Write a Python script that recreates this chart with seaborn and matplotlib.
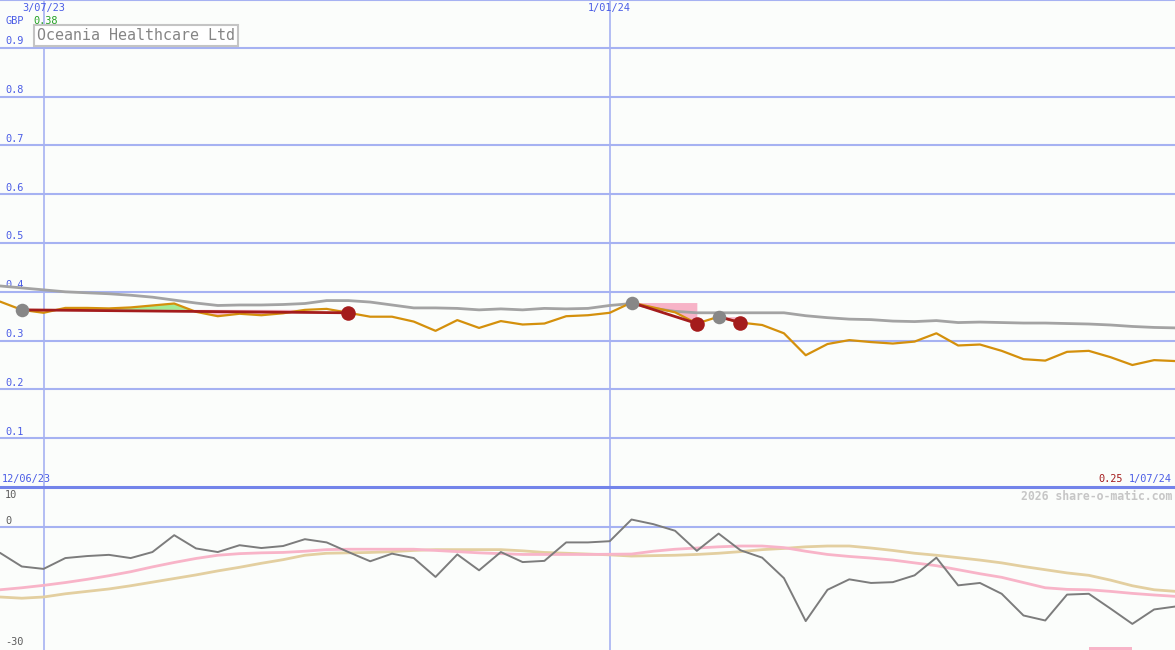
import matplotlib
matplotlib.use("Agg")
import matplotlib.pyplot as plt
import numpy as np
import pandas as pd
import seaborn as sns

# weekly data, 19 Jun 2023 .. 1 Jul 2024
dates = pd.date_range("2023-06-19", periods=55, freq="7D")

price = [0.380, 0.363, 0.357, 0.367, 0.367, 0.366, 0.368, 0.372, 0.376, 0.359,
         0.350, 0.355, 0.352, 0.356, 0.363, 0.365, 0.357, 0.349, 0.349, 0.339,
         0.320, 0.342, 0.326, 0.340, 0.333, 0.335, 0.350, 0.352, 0.357, 0.378,
         0.368, 0.358, 0.335, 0.349, 0.337, 0.332, 0.315, 0.270, 0.293, 0.301,
         0.297, 0.294, 0.298, 0.315, 0.290, 0.292, 0.279, 0.262, 0.259, 0.277,
         0.279, 0.266, 0.250, 0.260, 0.258]

price_ma = [0.412, 0.408, 0.404, 0.400, 0.398, 0.396, 0.393, 0.389, 0.383, 0.377,
            0.372, 0.373, 0.373, 0.374, 0.376, 0.382, 0.382, 0.379, 0.373, 0.367,
            0.367, 0.366, 0.363, 0.365, 0.363, 0.366, 0.365, 0.366, 0.372, 0.376,
            0.366, 0.360, 0.357, 0.357, 0.357, 0.357, 0.357, 0.351, 0.347, 0.344,
            0.343, 0.340, 0.339, 0.341, 0.337, 0.338, 0.337, 0.336, 0.336, 0.335,
            0.334, 0.332, 0.329, 0.327, 0.326]

momentum = [-6.4, -9.8, -10.4, -7.7, -7.2, -6.9, -7.7, -6.2, -2.0, -5.3,
            -6.2, -4.5, -5.2, -4.7, -3.0, -3.8, -6.2, -8.5, -6.6, -7.7,
            -12.4, -6.8, -10.75, -6.2, -8.7, -8.4, -3.8, -3.8, -3.5, 1.9,
            0.75, -0.9, -5.9, -1.6, -5.75, -7.6, -12.7, -23.4, -15.6, -13.0,
            -13.9, -13.7, -12.0, -7.6, -14.5, -13.9, -16.6, -22.0, -23.25, -16.8,
            -16.6, -20.3, -24.1, -20.5, -19.75]

mom_fast = [-15.6, -15.1, -14.5, -13.8, -13.0, -12.1, -11.1, -9.9, -8.8, -7.8,
            -7.0, -6.6, -6.4, -6.3, -6.0, -5.6, -5.5, -5.5, -5.5, -5.5,
            -5.8, -6.1, -6.4, -6.6, -6.8, -6.8, -6.8, -6.8, -6.75, -6.7,
            -6.0, -5.5, -5.2, -4.9, -4.7, -4.7, -5.1, -6.0, -6.8, -7.3,
            -7.7, -8.2, -8.9, -9.6, -10.6, -11.6, -12.5, -13.8, -15.1, -15.5,
            -15.6, -16.0, -16.5, -16.9, -17.25]

mom_slow = [-17.4, -17.7, -17.4, -16.6, -16.0, -15.4, -14.6, -13.7, -12.8, -11.9,
            -10.9, -10.0, -9.0, -8.1, -7.0, -6.5, -6.4, -6.3, -6.1, -5.8,
            -5.6, -5.6, -5.6, -5.6, -5.9, -6.3, -6.5, -6.7, -6.9, -7.2,
            -7.1, -7.0, -6.8, -6.5, -6.1, -5.6, -5.3, -4.9, -4.7, -4.7,
            -5.2, -5.8, -6.5, -7.0, -7.6, -8.2, -8.9, -9.8, -10.6, -11.4,
            -12.0, -13.2, -14.6, -15.6, -16.0]

# trades: week index of buy and sell
buy_weeks = [1, 29, 33]
sell_weeks = [16, 32, 34]
signal_weeks = [50, 51]

price_ticks = [0.1, 0.2, 0.3, 0.4, 0.5, 0.6, 0.7, 0.8, 0.9]
price_labels = ["0.1", "0.2", "0.3", "0.4", "0.5", "0.6", "0.7", "0.8", "0.9"]
mom_ticks = [10, 0, -30]
mom_labels = ["10", "0", "-30"]
date_marks = [pd.Timestamp("2023-07-03"), pd.Timestamp("2024-01-01")]
date_marks_lbl = ["3/07/23", "1/01/24"]

sns.set_style("white")
plt.rcParams["font.family"] = ["DejaVu Sans Mono"]

BG = "#fbfdfb"
GRID = "#a6b2f2"
BLUE_TXT = "#4b5de6"
ORANGE = "#d4900c"
MA_GRAY = "#a3a3a3"
DARKRED = "#a41c1c"
FS = 7.4

df = pd.DataFrame({"date": dates, "price": price, "ma": price_ma,
                   "mom": momentum, "fast": mom_fast, "slow": mom_slow})

fig = plt.figure(figsize=(11.75, 6.5), dpi=100, facecolor=BG)
ax1 = fig.add_axes([0, 163 / 650, 1, 487 / 650], facecolor=BG)
ax2 = fig.add_axes([0, 0, 1, 163 / 650], facecolor=BG)

x0 = pd.Timestamp("2023-06-19")
x1 = pd.Timestamp("2024-06-30 17:00")
for ax in (ax1, ax2):
    ax.set_xlim(x0, x1)
    ax.set_xticks([])
    ax.set_yticks([])
    for s in ax.spines.values():
        s.set_visible(False)
    for d in date_marks:
        ax.axvline(d, color=GRID, lw=1.2, zorder=1)

ax1.set_ylim(0, 0.998)
ax2.set_ylim(-30.6, 10)

# ---- upper panel ----
for v, lbl in zip(price_ticks, price_labels):
    ax1.axhline(v, color=GRID, lw=1.5, zorder=1)
    ax1.annotate(lbl, xy=(0, v), xycoords=("axes fraction", "data"),
                 xytext=(3.6, 1.2), textcoords="offset points",
                 ha="left", va="bottom", fontsize=FS, color=BLUE_TXT)
ax1.spines["top"].set_visible(True)
ax1.spines["top"].set_color(GRID)
ax1.spines["top"].set_linewidth(1.5)

# trade fills (green above entry, pink below)
for b, s in zip(buy_weeks, sell_weeks):
    seg_d = dates[b:s + 1]
    seg_p = np.array(price[b:s + 1])
    entry = price[b]
    ax1.fill_between(seg_d, seg_p, entry, where=seg_p >= entry,
                     interpolate=True, color="#a4ec94", lw=0, zorder=2)
    ax1.fill_between(seg_d, seg_p, entry, where=seg_p < entry,
                     interpolate=True, color="#f7b3c7", lw=0, zorder=2)

sns.lineplot(data=df, x="date", y="ma", ax=ax1, color=MA_GRAY, lw=2, zorder=3)
sns.lineplot(data=df, x="date", y="price", ax=ax1, color=ORANGE, lw=1.6, zorder=4)

for b, s in zip(buy_weeks, sell_weeks):
    ax1.plot([dates[b], dates[s]], [price[b], price[s]], color=DARKRED,
             lw=2, zorder=5)
ax1.scatter(dates[buy_weeks], [price[i] for i in buy_weeks], s=95,
            color="#878787", zorder=6, lw=0)
ax1.scatter(dates[sell_weeks], [price[i] for i in sell_weeks], s=110,
            color=DARKRED, zorder=6, lw=0)
ax1.set_xlabel("")
ax1.set_ylabel("")

# header text
for d, lbl in zip(date_marks, date_marks_lbl):
    ax1.text(d, 0.982, lbl, ha="center", va="center", fontsize=FS,
             color=BLUE_TXT)
ytr = ax1.get_yaxis_transform()
ax1.text(5 / 1175, 0.955, "GBP", transform=ytr, ha="left", va="center",
         fontsize=FS, color=BLUE_TXT)
ax1.text(33 / 1175, 0.955, "0.38", transform=ytr, ha="left", va="center",
         fontsize=FS, color="#22a022")
ax1.text(37 / 1175, 0.925, "Oceania Healthcare Ltd", transform=ytr,
         ha="left", va="center", fontsize=10.8, color="#858585",
         bbox=dict(boxstyle="square,pad=0.22", fc="white", ec="#c4c4c4",
                   lw=1.5), zorder=7)
ax1.text(2 / 1175, 0.017, "12/06/23", transform=ytr, ha="left",
         va="center", fontsize=FS, color=BLUE_TXT)
ax1.text(1172 / 1175, 0.017, "1/07/24", transform=ytr, ha="right",
         va="center", fontsize=FS, color=BLUE_TXT)
ax1.text(1123 / 1175, 0.017, "0.25", transform=ytr, ha="right",
         va="center", fontsize=FS, color=DARKRED)

# ---- lower panel ----
ax2.axhline(0, color=GRID, lw=1.5, zorder=1)
ax2.spines["top"].set_visible(True)
ax2.spines["top"].set_color("#7384ea")
ax2.spines["top"].set_linewidth(2.2)

sns.lineplot(data=df, x="date", y="slow", ax=ax2, color="#e3cfa0", lw=2, zorder=3)
sns.lineplot(data=df, x="date", y="fast", ax=ax2, color="#f8b4c8", lw=2, zorder=3)
sns.lineplot(data=df, x="date", y="mom", ax=ax2, color="#7c7c7c", lw=1.4, zorder=4)
ax2.bar(dates[signal_weeks[0]], 0.8,
        width=(dates[signal_weeks[-1]] - dates[signal_weeks[0]]).days + 7,
        bottom=-30.6, align="edge", color="#f8b4c8", lw=0, zorder=2)
ax2.set_xlabel("")
ax2.set_ylabel("")

ytr2 = ax2.get_yaxis_transform()
for v, lbl in zip(mom_ticks, mom_labels):
    yv = v - 2.0 if v == 10 else v + 1.5
    ax2.text(5 / 1175, yv, lbl, transform=ytr2, ha="left", va="center",
             fontsize=FS, color="#5c5c5c")
ax2.text(1172 / 1175, 7.7, "2026 share-o-matic.com", transform=ytr2,
         ha="right", va="center", fontsize=8.3, fontweight="bold",
         color="#c6c6c6")

fig.savefig("out.png", dpi=100, facecolor=BG)
